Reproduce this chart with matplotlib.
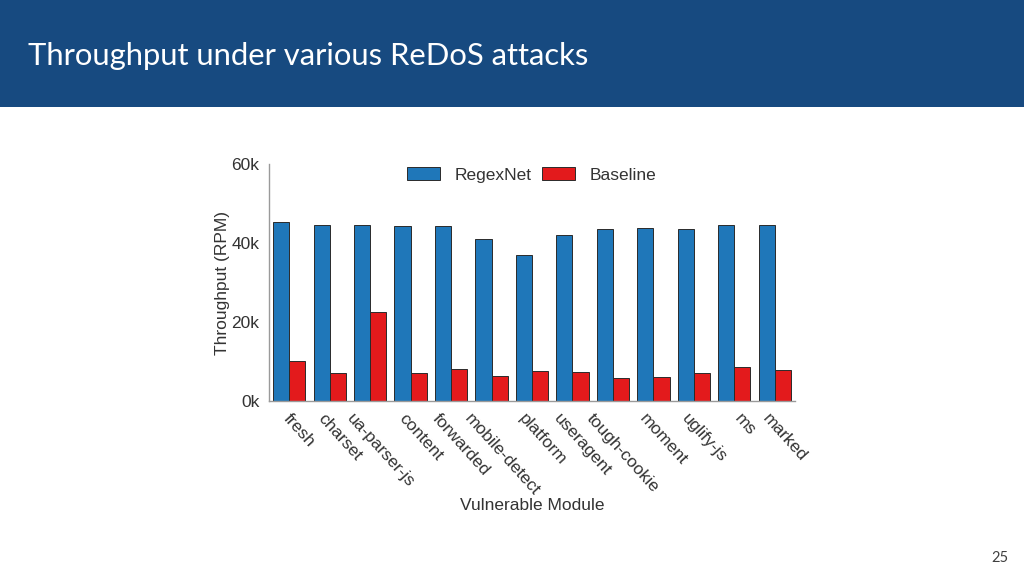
import matplotlib.pyplot as plt
import numpy as np
from matplotlib.patches import Rectangle

modules = ['fresh', 'charset', 'ua-parser-js', 'content', 'forwarded', 'mobile-detect',
           'platform', 'useragent', 'tough-cookie', 'moment', 'uglify-js', 'ms', 'marked']
regexnet = [45.4, 44.5, 44.7, 44.4, 44.4, 41.1, 37.0, 42.1, 43.6, 43.9, 43.6, 44.5, 44.7]
baseline = [10.2, 7.1, 22.6, 7.1, 8.1, 6.4, 7.6, 7.3, 5.9, 6.1, 7.1, 8.5, 7.8]
yticks = [0, 20, 40, 60]
ytick_labels = ['0k', '20k', '40k', '60k']

plt.rcParams['font.family'] = ['Liberation Sans', 'DejaVu Sans']

fig = plt.figure(figsize=(10.24, 5.76), dpi=100)

# slide header
fig.patches.append(Rectangle((0, 1 - 107 / 576), 1, 107 / 576, transform=fig.transFigure,
                             facecolor='#174a80', edgecolor='none', zorder=0))
fig.text(28 / 1024, 1 - 56 / 576, 'Throughput under various ReDoS attacks', color='white',
         fontsize=22.3, family=['Lato', 'DejaVu Sans'], va='center', ha='left')
fig.text(1000 / 1024, 1 - 558 / 576, '25', color='#404040', fontsize=10.5,
         family=['Lato', 'DejaVu Sans'], va='center', ha='center')

ax = fig.add_axes([269 / 1024, 1 - 401 / 576, (795 - 269) / 1024, (401 - 164.3) / 576])
x = np.arange(len(modules))
w = 0.4
ax.bar(x - w / 2, regexnet, w, color='#1f77b9', edgecolor='#2a2a2a', linewidth=0.7, label='RegexNet')
ax.bar(x + w / 2, baseline, w, color='#e31a1c', edgecolor='#2a2a2a', linewidth=0.7, label='Baseline')

ax.set_xlim(-0.5, len(modules) - 0.5)
ax.set_ylim(0, 60)
ax.set_yticks(yticks)
ax.set_yticklabels(ytick_labels, fontsize=12.5, color='#333333')
# labels in the original sit a little right of the group centres
ax.set_xticks(x + 0.25)
ax.set_xticklabels(modules, rotation=-48, ha='center', va='top',
                   fontsize=12.5, color='#333333')
ax.tick_params(axis='both', length=0)
ax.tick_params(axis='y', pad=7)
ax.tick_params(axis='x', pad=7)

for s in ['top', 'right']:
    ax.spines[s].set_visible(False)
for s in ['left', 'bottom']:
    ax.spines[s].set_color('#9a9a9a')
    ax.spines[s].set_linewidth(1.0)

ax.set_ylabel('Throughput (RPM)', fontsize=12.5, color='#333333')
ax.yaxis.set_label_coords(-0.074, 0.5)
ax.set_xlabel('Vulnerable Module', fontsize=12.5, color='#333333')
ax.xaxis.set_label_coords(0.5, -0.41)

ax.legend(loc='center', bbox_to_anchor=(0.5, 0.955), ncol=2, frameon=False,
          fontsize=12.5, handlelength=1.9, handleheight=0.72, handletextpad=0.85,
          columnspacing=0.6, labelcolor='#333333')

fig.savefig('out.png', dpi=100)
